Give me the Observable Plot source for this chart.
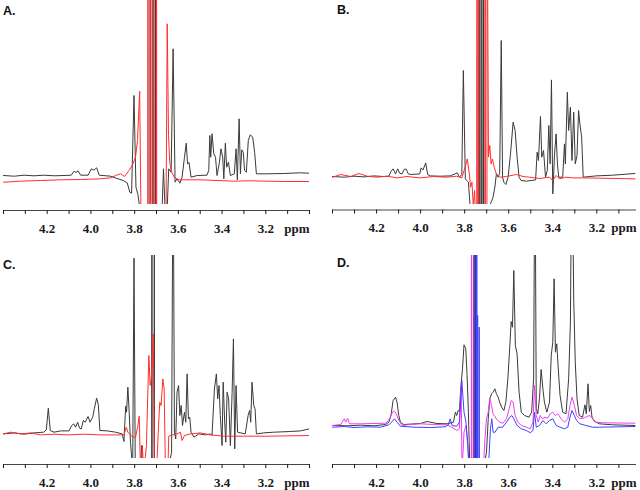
<!DOCTYPE html>
<html><head><meta charset="utf-8">
<script src="https://cdn.jsdelivr.net/npm/d3@7"></script>
<script src="https://cdn.jsdelivr.net/npm/@observablehq/plot@0.6"></script>
<style>
body{margin:0;background:#fff;}
#chart{position:relative;width:640px;height:490px;overflow:hidden;background:#fff}
#chart svg{position:absolute}
#chart svg text{font-family:'Liberation Serif','Times New Roman',serif;font-weight:bold;font-size:13px}
.lbl{position:absolute;font:bold 12.5px "Liberation Sans",Arial,sans-serif;line-height:1;color:#111}
</style></head><body><div id="chart"></div>
<script>
// ---- data: [chemical shift (ppm), intensity] ----
const aBlack = [[4.400,0],[4.351,-0.7],[4.306,0.3],[4.260,-0.3],[4.214,0.3],[4.169,-0.3],[4.123,0],[4.090,0.3],[4.077,4.3],[4.068,3],[4.059,4.7],[4.047,0.3],[4.013,0.3],[3.998,6.7],[3.986,5.3],[3.974,7.7],[3.962,0.3],[3.910,-0.7],[3.876,-3.3],[3.852,-5],[3.834,-7.3],[3.822,-16.7],[3.814,-17.7],[3.803,80],[3.794,-11.7],[3.785,-19],[3.773,-38],[3.730,-60],[3.729,300],[3.728,-60],[3.717,-60],[3.716,300],[3.715,-60],[3.706,-60],[3.705,300],[3.704,-60],[3.679,-60],[3.668,6.7],[3.656,-60],[3.644,6.7],[3.633,3.3],[3.624,126.7],[3.615,-6.7],[3.606,-3.3],[3.593,-7.7],[3.583,-1.7],[3.572,18.3],[3.564,32.3],[3.558,11.7],[3.551,13],[3.542,-1.7],[3.514,0],[3.469,0.3],[3.461,5],[3.456,40],[3.452,18.3],[3.446,41.7],[3.438,21.7],[3.430,18.3],[3.423,0],[3.412,13.3],[3.405,26.7],[3.397,18.3],[3.392,-3.3],[3.385,32.3],[3.379,8.3],[3.371,13.3],[3.362,0],[3.344,1.7],[3.336,26.7],[3.330,-4.3],[3.322,56.7],[3.316,1.7],[3.310,25.7],[3.303,23.3],[3.297,5],[3.289,3.3],[3.280,35],[3.271,40.7],[3.260,38.3],[3.251,23.3],[3.243,1.7],[3.195,1.7],[3.118,2],[3.042,2.7],[3.000,2.3]];
const aRed = [[4.400,-6.7],[4.321,-5.7],[4.230,-5],[4.138,-4.3],[4.047,-4],[3.956,-3.3],[3.910,-2.3],[3.887,0],[3.864,1.7],[3.846,-1],[3.826,5],[3.811,10],[3.796,18.3],[3.787,35],[3.777,84.3],[3.771,-40],[3.740,-60],[3.739,300],[3.738,-60],[3.727,-60],[3.726,300],[3.725,-60],[3.713,-60],[3.712,300],[3.711,-60],[3.701,-60],[3.700,300],[3.699,-60],[3.657,-60],[3.651,151.7],[3.645,40],[3.639,12],[3.630,3.3],[3.618,-2],[3.598,-4.3],[3.499,-4.3],[3.423,-5],[3.347,-5.7],[3.271,-5.3],[3.195,-5.7],[3.118,-6],[3.000,-6]];
const bBlack = [[4.400,-0.3],[4.347,-1],[4.302,0],[4.257,-0.7],[4.212,0.3],[4.167,-0.3],[4.144,0],[4.134,5],[4.125,7.3],[4.114,2.3],[4.104,7.3],[4.095,3],[4.084,2.3],[4.074,7],[4.065,7],[4.056,2.3],[4.044,1.7],[4.004,2.3],[3.998,8.3],[3.989,6.3],[3.977,13.3],[3.968,1.7],[3.956,0.3],[3.911,0],[3.866,0.3],[3.844,2.3],[3.833,3.3],[3.824,-1],[3.813,1.7],[3.806,105.7],[3.797,-2.7],[3.791,-4.3],[3.783,-6],[3.776,-27.7],[3.768,-38],[3.732,-60],[3.731,300],[3.730,-60],[3.723,-60],[3.722,300],[3.721,-60],[3.715,-60],[3.714,300],[3.713,-60],[3.693,-60],[3.683,-27.7],[3.671,-21],[3.663,-11],[3.656,2.3],[3.648,-1],[3.641,3],[3.634,135.7],[3.628,-1],[3.622,-6],[3.613,-8.3],[3.603,-1],[3.592,22.3],[3.580,54],[3.571,45.7],[3.562,19],[3.553,-1],[3.544,-4.3],[3.520,-5],[3.478,-3.7],[3.471,24],[3.465,15.7],[3.456,59.7],[3.450,19],[3.442,25.7],[3.433,-1],[3.425,5.7],[3.418,50.7],[3.412,12.3],[3.406,96.3],[3.400,-17.7],[3.392,22.3],[3.385,42.3],[3.379,12.3],[3.373,-1],[3.355,-1],[3.347,32.3],[3.343,12.3],[3.334,84],[3.328,45.7],[3.320,69],[3.313,15.7],[3.305,64],[3.298,12.3],[3.290,20.7],[3.283,65.7],[3.277,52.3],[3.269,39],[3.262,-1],[3.204,0.3],[3.129,1],[3.027,2.7]];
const bRed = [[4.400,-1],[4.362,1.7],[4.317,-0.3],[4.280,2.7],[4.242,0],[4.197,-1],[4.152,0],[4.107,-1.7],[4.062,-0.3],[4.002,-1.7],[3.941,-0.3],[3.881,-1],[3.836,0],[3.813,-1.7],[3.798,9],[3.788,17.3],[3.779,2.3],[3.773,-11],[3.767,-6],[3.761,-29.3],[3.755,-14.3],[3.749,-60],[3.745,-60],[3.744,300],[3.743,-60],[3.739,-60],[3.738,300],[3.737,-60],[3.708,-60],[3.707,300],[3.706,-60],[3.699,-60],[3.698,300],[3.692,19],[3.686,30.7],[3.680,12.3],[3.674,17.3],[3.666,9],[3.656,2.3],[3.641,-1],[3.611,-0.3],[3.565,1.7],[3.535,-0.3],[3.505,-1],[3.460,-2.3],[3.415,-1],[3.400,-4.3],[3.385,0.7],[3.370,-2.7],[3.340,-1],[3.310,-1.7],[3.250,-1.7],[3.189,-2],[3.099,-2.3],[3.027,-2.7]];
const cBlack = [[4.400,-1.7],[4.351,-0.7],[4.306,-2],[4.260,-0.7],[4.217,0],[4.204,2.3],[4.195,24],[4.186,1.7],[4.169,0],[4.138,1.3],[4.100,1.3],[4.088,6.7],[4.079,8.3],[4.070,5],[4.061,10],[4.052,4],[4.044,3.3],[4.035,11.7],[4.026,10],[4.013,15.7],[4.004,10],[3.992,15],[3.984,24],[3.974,34],[3.966,27.3],[3.959,1.7],[3.925,1.3],[3.887,0],[3.857,-1.7],[3.849,-9.3],[3.841,26],[3.837,20],[3.831,45],[3.825,20],[3.819,-10],[3.813,-26.7],[3.809,-40],[3.803,174],[3.797,-40],[3.773,-40],[3.768,-13.3],[3.764,-40],[3.722,-60],[3.721,300],[3.720,-60],[3.711,-60],[3.710,300],[3.709,-60],[3.651,-40],[3.631,-20],[3.624,300],[3.618,0],[3.612,-6.7],[3.606,40],[3.599,46.7],[3.593,16.7],[3.587,26.7],[3.581,6.7],[3.572,20],[3.566,10],[3.560,58.3],[3.554,13.3],[3.548,15],[3.542,0],[3.529,-5],[3.506,-1.7],[3.476,-2.7],[3.453,-1.7],[3.446,-3.3],[3.435,43.3],[3.426,58.3],[3.420,33.3],[3.414,46.7],[3.408,16.7],[3.400,-13.3],[3.395,50],[3.388,10],[3.383,-10],[3.377,40],[3.370,33.3],[3.362,-13.3],[3.354,40],[3.348,93.3],[3.342,-16.7],[3.336,46.7],[3.329,0],[3.294,-1.7],[3.281,16.7],[3.274,21.7],[3.269,10],[3.263,50],[3.255,26.7],[3.249,23.3],[3.243,-1.7],[3.210,-0.7],[3.164,0],[3.088,0.7],[3.042,1.3],[3.000,3.3]];
const cRed = [[4.400,-1.7],[4.367,0],[4.321,-1.7],[4.275,-0.7],[4.230,-2.7],[4.169,-2],[4.108,-2.7],[4.032,-2],[3.956,-2.7],[3.895,-2.7],[3.849,-2.7],[3.838,5],[3.831,0],[3.819,-2.7],[3.807,-5],[3.796,-5],[3.785,6.7],[3.779,16],[3.773,-40],[3.765,-13.3],[3.758,-40],[3.746,-13.3],[3.740,36.7],[3.735,76.7],[3.729,46.7],[3.724,53.3],[3.715,98.3],[3.709,-40],[3.700,-40],[3.692,0],[3.685,30],[3.679,26.7],[3.671,53.3],[3.665,43.3],[3.659,-40],[3.648,-40],[3.644,-4],[3.628,-2.7],[3.606,-1.7],[3.590,0],[3.583,-8.3],[3.572,-3.3],[3.545,-1.7],[3.499,-0.7],[3.453,-2.7],[3.392,-4],[3.301,-4],[3.195,-4],[3.000,-3.3]];
const dBlack = [[4.400,0],[4.332,-0.3],[4.272,0.3],[4.212,-0.3],[4.159,1],[4.144,3.3],[4.134,10.7],[4.125,25],[4.114,28.3],[4.107,23.3],[4.099,10],[4.092,3.3],[4.077,1],[4.001,2],[3.971,4],[3.926,2],[3.881,1.7],[3.851,3.3],[3.842,13.3],[3.836,10],[3.830,15],[3.824,14],[3.818,36.7],[3.810,56.7],[3.803,80.7],[3.795,76.7],[3.789,50],[3.783,13.3],[3.776,-46.7],[3.761,-60],[3.760,300],[3.759,-60],[3.751,-60],[3.750,300],[3.749,-60],[3.716,-46.7],[3.701,-26.7],[3.693,6.7],[3.686,26.7],[3.678,31.7],[3.671,33.3],[3.663,36.7],[3.656,31.7],[3.648,28.3],[3.641,23.3],[3.632,18.3],[3.622,15],[3.613,23.3],[3.604,46.7],[3.595,80],[3.589,104],[3.583,98.3],[3.577,155],[3.570,80],[3.562,71.7],[3.553,33.3],[3.543,13.3],[3.528,10],[3.508,8.3],[3.496,13.3],[3.487,46.7],[3.481,300],[3.475,16.7],[3.468,11.7],[3.460,28.3],[3.453,56],[3.445,36.7],[3.438,23.3],[3.427,13.3],[3.415,23.3],[3.407,70],[3.400,83.3],[3.394,146.7],[3.388,73.3],[3.382,81.7],[3.376,60],[3.367,30],[3.355,13.3],[3.340,11.7],[3.328,46.7],[3.320,103.3],[3.313,300],[3.305,126.7],[3.298,63.3],[3.290,26.7],[3.280,10],[3.265,8.3],[3.254,20.7],[3.248,11.7],[3.240,41.7],[3.234,14],[3.228,20],[3.222,8.3],[3.212,4.3],[3.189,1.7],[3.129,0.7],[3.027,0]];
const dMagenta = [[4.400,0],[4.362,1],[4.347,6.7],[4.340,3.3],[4.332,7.3],[4.323,1.7],[4.272,1.7],[4.212,2],[4.159,2.3],[4.140,6.7],[4.128,13.3],[4.119,14.3],[4.110,11.7],[4.099,5],[4.084,0],[4.047,1],[4.001,1.7],[3.941,1],[3.881,0.7],[3.851,-2.7],[3.836,-5],[3.824,-3.3],[3.816,40],[3.812,-46.7],[3.803,-6.7],[3.794,0],[3.785,-20],[3.779,-46.7],[3.770,-60],[3.769,300],[3.768,-60],[3.758,-60],[3.757,300],[3.756,-60],[3.716,-46.7],[3.708,-13.3],[3.701,6.7],[3.693,13.3],[3.686,27.3],[3.678,20],[3.671,11.7],[3.656,6.7],[3.641,3.3],[3.626,2.3],[3.610,6.7],[3.598,16.7],[3.589,25],[3.580,23.3],[3.571,10],[3.558,3.3],[3.543,0],[3.520,-1.7],[3.502,-3.3],[3.490,3.3],[3.483,40],[3.475,10],[3.466,3.3],[3.457,10],[3.448,6.7],[3.436,8.3],[3.424,7.3],[3.412,11.7],[3.400,13.3],[3.388,10],[3.377,11.7],[3.362,6.7],[3.347,3.3],[3.332,6.7],[3.322,20],[3.313,28.3],[3.302,20],[3.292,10],[3.277,6.7],[3.257,7.7],[3.242,9.3],[3.231,10],[3.219,6.7],[3.204,3.3],[3.174,2.7],[3.027,2.3]];
const dBlue = [[4.400,-1.7],[4.347,-1],[4.302,-2],[4.242,-1.3],[4.182,-1.7],[4.144,0.7],[4.129,4],[4.119,6.7],[4.107,3.3],[4.092,-0.7],[4.032,-1.7],[3.956,-2],[3.889,-1.3],[3.874,0.7],[3.866,6.7],[3.857,0],[3.836,-0.7],[3.824,3.3],[3.813,45],[3.803,13.3],[3.794,3.3],[3.786,-20],[3.780,-46.7],[3.756,-60],[3.755,300],[3.754,-60],[3.746,-60],[3.745,300],[3.744,-60],[3.742,-60],[3.741,110],[3.740,-60],[3.735,-60],[3.734,98.3],[3.733,-60],[3.713,-46.7],[3.693,-46.7],[3.683,-3.3],[3.677,6.7],[3.671,-6.7],[3.662,-6.7],[3.648,-1.7],[3.628,-1.7],[3.610,3.3],[3.595,8.3],[3.586,10],[3.577,6.7],[3.562,0],[3.543,-3.3],[3.520,-5],[3.502,-7.3],[3.490,-5],[3.483,13.3],[3.475,-1.7],[3.460,0],[3.445,5],[3.430,1.7],[3.415,5],[3.400,6.7],[3.385,0],[3.367,-1.7],[3.347,-3.3],[3.332,-1.7],[3.322,8.3],[3.313,15],[3.302,10],[3.292,5],[3.277,1.7],[3.250,0],[3.219,-1.7],[3.189,-1.7],[3.027,-1]];

const ticksAC = [4.4,4.3,4.2,4.1,4.0,3.9,3.8,3.7,3.6,3.5,3.4,3.3,3.2,3.1,3.0];
const ticksBD = [4.4,4.3,4.2,4.1,4.0,3.9,3.8,3.7,3.6,3.5,3.4,3.3,3.2,3.1];
const tickLabels = [4.2,4.0,3.8,3.6,3.4,3.2];
const panelNames = ["A.","B.","C.","D."];
const unitLabel = "ppm";

const colors = {black:"#3a3a3a", red:"#ff2e2e", magenta:"#f03cf0", blue:"#4040ff"};

const labelSet = new Set(tickLabels.map(v => v.toFixed(1)));

function drawPanel(cfg) {
  const marks = cfg.series.map(s => Plot.line(s.data, {x: d => d[0], y: d => d[1], stroke: s.color, strokeWidth: 1, clip: true}));
  marks.push(Plot.ruleY([cfg.y[0]], {dy: cfg.gap, stroke: "#444", strokeWidth: 1}));
  marks.push(Plot.axisX(cfg.ticks, {
    tickSize: 4, tickPadding: 9, dy: cfg.gap, color: "#1a1a1a",
    tickFormat: d => labelSet.has(d.toFixed(1)) ? d.toFixed(1) : ""
  }));
  marks.push(Plot.text([unitLabel], {text: d => d, frameAnchor: "bottom-right", textAnchor: "end", lineAnchor: "top",
    dy: cfg.gap + 4 + 9, fill: "#1a1a1a"}));
  const svg = Plot.plot({
    width: 320, height: 245,
    marginTop: cfg.mt, marginBottom: cfg.mb, marginLeft: cfg.ml, marginRight: cfg.mr,
    x: {domain: cfg.x},
    y: {domain: cfg.y, axis: null},
    style: {background: "transparent", overflow: "visible"},
    marks
  });
  svg.style.left = cfg.left + "px";
  svg.style.top = cfg.top + "px";
  return svg;
}

const chart = document.getElementById("chart");
const panels = [
  {left: 0, top: 0, ml: 3, mr: 11, mt: 0, mb: 41, x: [4.4, 3.0], y: [-29, 175], gap: 6, ticks: ticksAC,
   series: [{data: aBlack, color: colors.black}, {data: aRed, color: colors.red}], lx: 3, ly: 4.6},
  {left: 320, top: 0, ml: 12, mr: 4, mt: 0, mb: 41, x: [4.4, 3.02], y: [-28.3, 175.7], gap: 5.5, ticks: ticksBD,
   series: [{data: bBlack, color: colors.black}, {data: bRed, color: colors.red}], lx: 337, ly: 3.6},
  {left: 0, top: 245, ml: 3, mr: 11, mt: 10, mb: 32, x: [4.4, 3.0], y: [-26.3, 176.7], gap: 6, ticks: ticksAC,
   series: [{data: cBlack, color: colors.black}, {data: cRed, color: colors.red}], lx: 3, ly: 258.6},
  {left: 320, top: 245, ml: 12, mr: 4, mt: 10, mb: 32, x: [4.4, 3.02], y: [-33, 170], gap: 6, ticks: ticksBD,
   series: [{data: dBlack, color: colors.black}, {data: dMagenta, color: colors.magenta}, {data: dBlue, color: colors.blue}], lx: 337, ly: 257}
];
panels.forEach((p, i) => {
  chart.appendChild(drawPanel(p));
  const lab = document.createElement("div");
  lab.className = "lbl";
  lab.textContent = panelNames[i];
  lab.style.left = p.lx + "px";
  lab.style.top = p.ly + "px";
  chart.appendChild(lab);
});
</script>
</body></html>
